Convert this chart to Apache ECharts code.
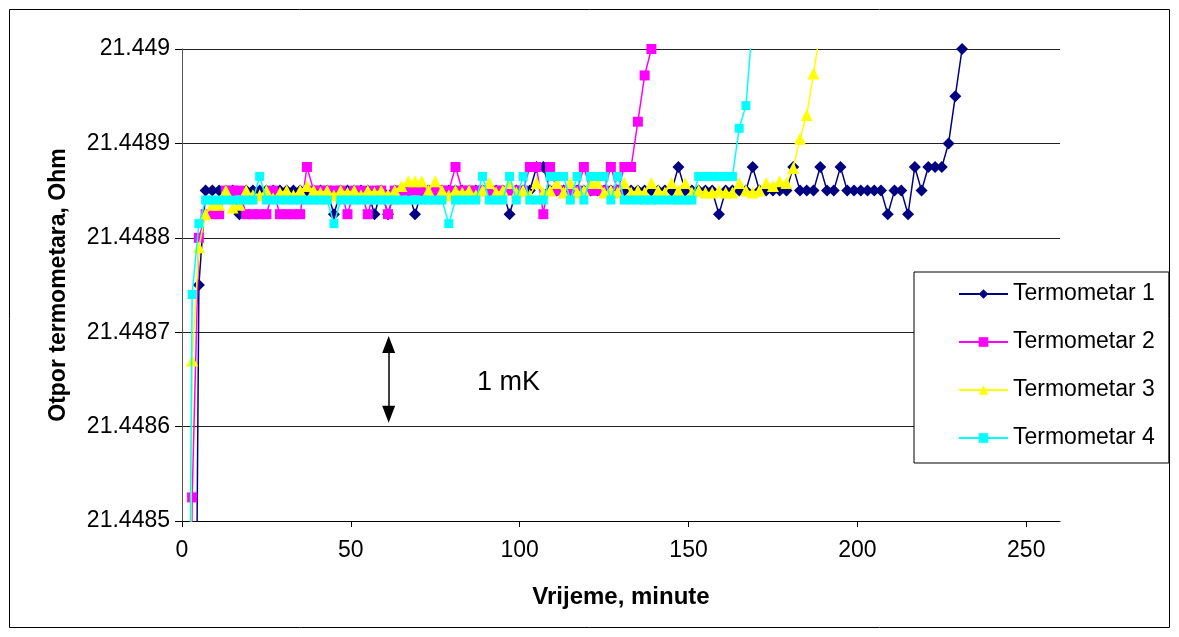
<!DOCTYPE html>
<html><head><meta charset="utf-8">
<script src="https://cdn.jsdelivr.net/npm/echarts@6/dist/echarts.min.js"></script>
<style>html,body{margin:0;padding:0;background:#fff}#c{width:1179px;height:637px}</style>
</head><body><div id="c"></div>
<script>
// Time of each reading (minutes)
const minutes = [1,3,5,7,9,11,13,15,17,19,21,23,25,27,29,31,33,35,37,39,41,43,45,47,49,51,53,55,57,59,
  61,63,65,67,69,71,73,75,77,79,81,83,85,87,89,91,93,95,97,99,101,103,105,107,109,111,113,115,117,119,
  121,123,125,127,129,131,133,135,137,139,141,143,145,147,149,151,153,155,157,159,161,163,165,167,169,
  171,173,175,177,179,181,183,185,187,189,191,193,195,197,199,201,203,205,207,209,211,213,215,217,219,
  221,223,225,227,229,231];

const seriesNames = ['Termometar 1','Termometar 2','Termometar 3','Termometar 4'];
const xTicks = [0,50,100,150,200,250];
const yTicks = [21.4485,21.4486,21.4487,21.4488,21.4489,21.449];

// Termometar 1 (Ohm)
const termometar1 = [21.4470,21.4478,21.44875,21.44885,21.44885,21.44885,21.44885,21.44885,21.448825,
  21.44885,21.44885,21.44885,21.44885,21.44885,21.44885,21.44885,21.44885,21.44885,21.44885,21.44885,21.44885,21.44885,
  21.448825,21.44885,21.44885,21.44885,21.44885,21.44885,21.448825,21.44885,21.448825,21.44885,21.44885,21.44885,21.448825,
  21.44885,21.44885,21.44885,21.44885,21.44885,21.44885,21.44885,21.44885,21.44885,21.44885,21.44885,21.44885,21.44885,
  21.448825,21.44885,21.44885,21.44885,21.448875,21.448875,
  21.44885,21.44885,21.44885,21.44885,21.44885,21.44885,21.44885,21.44885,21.44885,21.44885,21.44885,21.44885,21.44885,
  21.44885,21.44885,21.44885,21.44885,21.44885,21.44885,21.448875,21.44885,21.44885,21.44885,21.44885,21.44885,21.448825,
  21.44885,21.44885,21.44885,21.44885,21.448875,21.44885,21.44885,21.44885,21.44885,21.44885,21.448875,21.44885,21.44885,
  21.44885,21.448875,21.44885,21.44885,21.448875,21.44885,21.44885,21.44885,21.44885,21.44885,21.44885,21.448825,
  21.44885,21.44885,21.448825,21.448875,21.44885,21.448875,21.448875,21.448875,21.4489,21.44895,21.449];

// Termometar 2 (Ohm)
const termometar2 = [21.4476,21.448525,21.4488,21.448825,21.448825,21.448825,21.44885,21.44885,21.44885,
  21.448825,21.448825,21.448825,21.448825,21.44885,21.448825,21.448825,21.448825,21.448825,21.448875,
  21.44885,21.44885,21.44885,21.44885,21.44885,21.448825,21.44885,21.44885,21.448825,21.44885,21.44885,21.448825,
  21.44885,21.44885,21.44885,21.44885,21.44885,21.44885,21.44885,21.44885,21.44885,21.448875,
  21.44885,21.44885,21.44885,21.44885,21.44885,21.44885,21.44885,21.44885,21.44885,
  21.44885,21.448875,21.448875,21.448825,21.448875,21.44885,21.44885,21.44885,21.44885,21.448875,
  21.44885,21.44885,21.44885,21.448875,21.44885,21.448875,21.448875,21.448923,21.448972,21.449];

// Termometar 3 (Ohm)
const termometar3 = [21.4477,21.44867,21.44879,21.448825,21.448835,21.448835,21.44885,21.448832,21.448835,21.44885,
  21.448845,21.448845,21.44885,21.448842,21.448848,21.44885,21.448845,21.44885,21.448855,21.44885,
  21.448848,21.44885,21.448845,21.44885,21.448848,21.44885,21.448845,21.44885,21.448848,21.44885,
  21.448845,21.44885,21.448855,21.44886,21.44886,21.44886,21.44885,21.44886,21.44885,21.448845,
  21.44885,21.448848,21.44885,21.448845,21.44885,21.448858,21.448848,21.44885,21.448858,21.448848,
  21.44885,21.448845,21.448858,21.448848,21.44885,21.448858,21.448848,21.448858,21.448848,21.44885,
  21.448858,21.448858,21.448848,21.44885,21.448848,21.448858,21.448848,21.44885,21.448848,21.448858,
  21.44885,21.448848,21.448858,21.44885,21.448858,21.448848,21.44885,21.448848,21.448848,21.44885,
  21.448848,21.448848,21.448858,21.44885,21.448848,21.44885,21.448858,21.448855,21.44886,21.448858,
  21.448874,21.448905,21.44893,21.448974,21.44902];

// Termometar 4 (Ohm)
const termometar4 = [21.4478,21.44874,21.448815,
  21.44884,21.44884,21.44884,21.44884,21.44884,21.44884,21.44884,21.44884,21.448865,
  21.44884,21.44884,21.44884,21.44884,21.44884,21.44884,21.44884,21.44884,21.44884,21.44884,21.448815,
  21.44884,21.44884,21.44884,21.44884,21.44884,21.44884,21.44884,21.44884,21.44884,21.44884,21.44884,21.44884,21.44884,21.44884,21.44884,21.44884,
  21.448815,21.44884,21.44884,21.44884,21.44884,21.448865,21.44884,21.44884,21.44884,21.448865,21.44884,21.448865,
  21.44884,21.44884,21.44884,21.448865,21.448865,21.448865,21.44884,21.448865,21.44884,21.448865,21.448865,21.448865,
  21.44884,21.448865,21.44884,21.44884,21.44884,21.44884,21.44884,21.44884,21.44884,21.44884,21.44884,21.44884,21.44884,
  21.448865,21.448865,21.448865,21.448865,21.448865,21.448865,21.448916,21.44894,21.44903];

const seriesValues = [termometar1, termometar2, termometar3, termometar4];
const seriesColors = ['#000080','#FF00FF','#FFFF00','#00FFFF'];
const seriesSymbols = ['diamond','rect','triangle','rect'];
const seriesSymbolSizes = [12, 10, 12, 9];

const FONT = '"Liberation Sans", Arial, sans-serif';
const chart = echarts.init(document.getElementById('c'), null, {renderer: 'canvas'});

const series = seriesValues.map((vals, k) => ({
  name: seriesNames[k],
  type: 'line',
  data: vals.map((v, i) => [minutes[i], v]),
  symbol: seriesSymbols[k],
  symbolSize: seriesSymbolSizes[k],
  showAllSymbol: true,
  clip: true,
  color: seriesColors[k],
  lineStyle: {color: seriesColors[k], width: 1.5},
  itemStyle: {color: seriesColors[k], borderWidth: 0},
  emphasis: {disabled: true},
  z: 2 + k
}));

series[0].markLine = {
  silent: true,
  symbol: ['triangle','triangle'],
  symbolSize: [13, 17],
  label: {show: false},
  lineStyle: {color: '#000', width: 1.5, type: 'solid'},
  data: [[{coord: [61.2, 21.448687]}, {coord: [61.2, 21.448613]}]]
};

chart.setOption({
  animation: false,
  backgroundColor: '#fff',
  grid: {left: 182, top: 49, width: 878, height: 472, containLabel: false},
  xAxis: {
    type: 'value', min: 0, max: 260, interval: 50,
    name: 'Vrijeme, minute', nameLocation: 'middle', nameGap: 64,
    nameTextStyle: {fontFamily: FONT, fontSize: 24, fontWeight: 'bold', color: '#000'},
    axisLine: {lineStyle: {color: '#000', width: 1}},
    axisTick: {show: true, inside: false, length: 6, lineStyle: {color: '#000'}, customValues: xTicks},
    axisLabel: {fontFamily: FONT, fontSize: 23, color: '#000', margin: 18, customValues: xTicks},
    splitLine: {show: false}
  },
  yAxis: {
    type: 'value', min: 21.4485, max: 21.449, interval: 0.0001,
    name: 'Otpor termometara, Ohm', nameLocation: 'middle', nameGap: 112,
    nameTextStyle: {fontFamily: FONT, fontSize: 23, fontWeight: 'bold', color: '#000'},
    axisLine: {show: true, lineStyle: {color: '#555', width: 1}},
    axisTick: {show: true, inside: false, length: 7, lineStyle: {color: '#000'}},
    axisLabel: {fontFamily: FONT, fontSize: 23, color: '#000', margin: 12,
      formatter: v => String(+(+v).toFixed(4))},
    splitLine: {show: true, lineStyle: {color: '#222', width: 1}}
  },
  legend: {
    orient: 'vertical', left: 914, top: 272,
    padding: [10, 14, 13, 44],
    itemWidth: 49, itemHeight: 12, itemGap: 24,
    backgroundColor: '#fff', borderColor: '#000', borderWidth: 1,
    textStyle: {fontFamily: FONT, fontSize: 23, color: '#000', lineHeight: 24},
    data: seriesNames
  },
  graphic: [
    {type: 'rect', silent: true, shape: {x: 9.5, y: 9.5, width: 1160, height: 618},
     style: {fill: 'none', stroke: '#000', lineWidth: 1}, z: 100},
    {type: 'text', left: 477, top: 369, silent: true,
     style: {text: '1 mK', fontFamily: FONT, fontSize: 27, fill: '#000'}}
  ],
  series: series
});
</script></body></html>
